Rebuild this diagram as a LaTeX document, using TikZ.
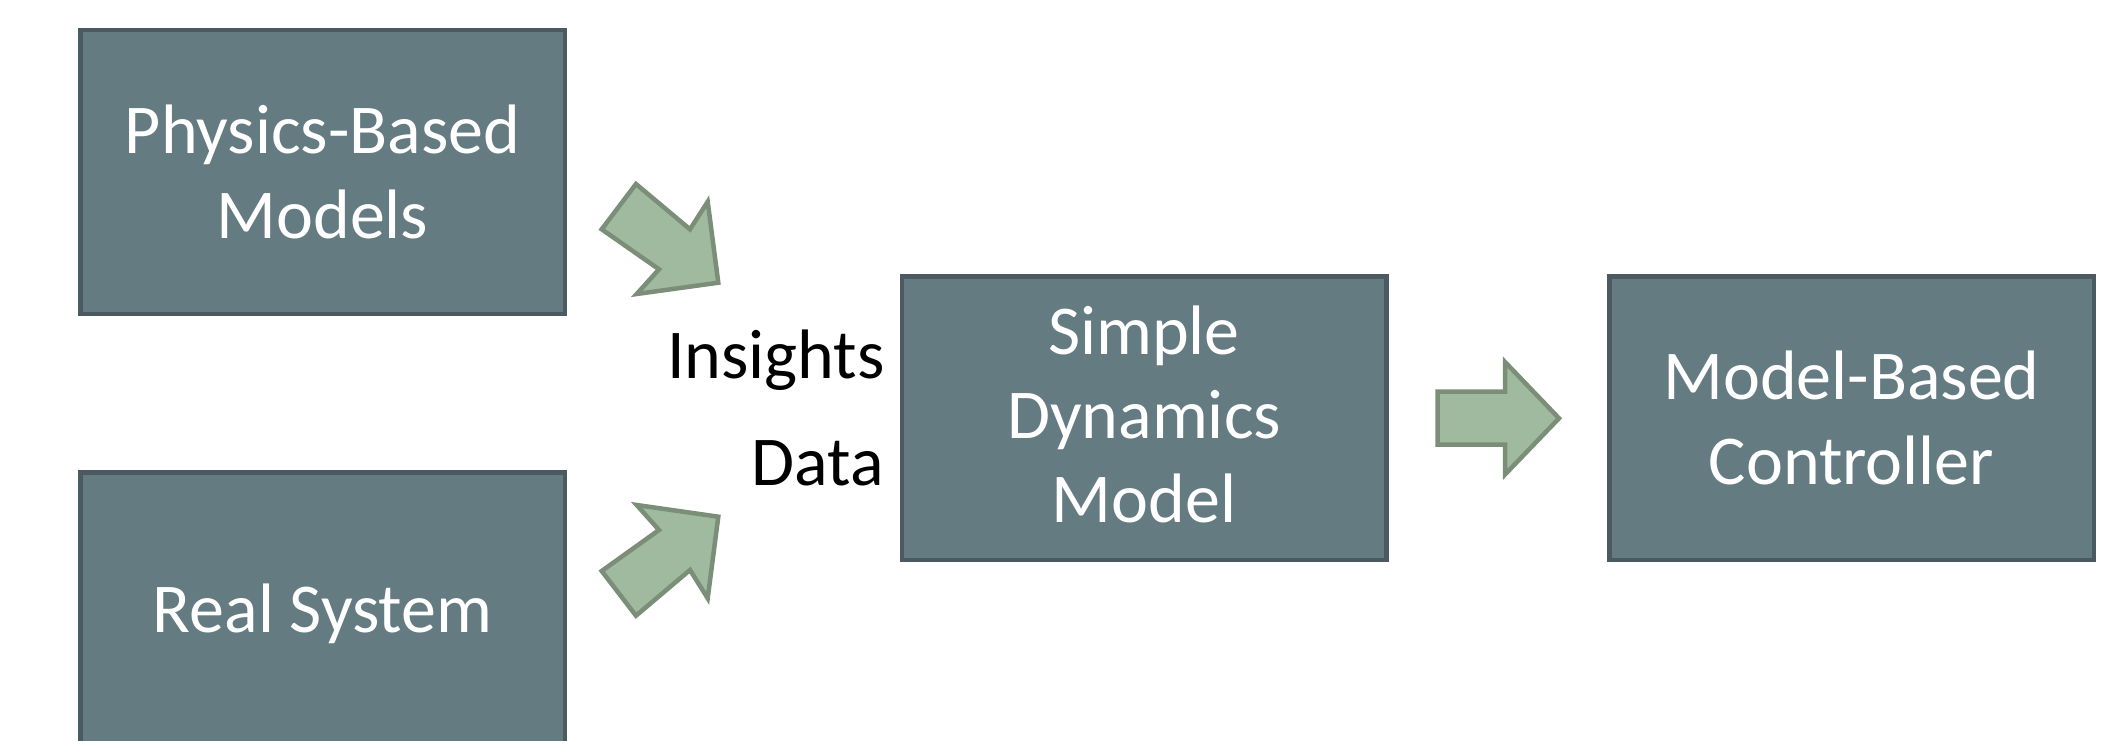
\documentclass[tikz,border=0pt]{standalone}
\usepackage{fontspec}
\setmainfont{Carlito}
\definecolor{boxfill}{HTML}{647B82}
\definecolor{boxline}{HTML}{4A5A60}
\definecolor{arrfill}{HTML}{9FBA9F}
\definecolor{arrline}{HTML}{7A8E78}
\begin{document}
\begin{tikzpicture}[x=1pt,y=-1pt,
  blockbox/.style={draw=boxline,fill=boxfill,line width=4.5pt,minimum width=484.5pt,minimum height=283.5pt,
    inner sep=0pt,outer sep=0pt,text=white,align=center,font=\fontsize{70}{85}\selectfont},
  blockarrow/.style={draw=arrline,fill=arrfill,line width=4.5pt,line join=miter},
  sidelabel/.style={anchor=base east,inner sep=0pt,text=black,font=\fontsize{70}{85}\selectfont}]
\useasboundingbox (0,0) rectangle (2110,741);
\begin{scope}
\clip (0,0) rectangle (2110,741);
\node[blockbox] (phys) at (322.5,172) {Physics-Based\\Models};
\node[blockbox] (real) at (322.5,614) {Real System};
\node[blockbox,font=\fontsize{70}{84}\selectfont,text depth=8pt] (sdm) at (1144,418) {Simple\\Dynamics\\Model};
\node[blockbox] (mbc) at (1851.5,418) {Model-Based\\Controller};
\end{scope}
\node[sidelabel] (insights) at (885,378) {Insights};
\node[sidelabel] (data) at (884,485) {Data};
% block arrows
\draw[blockarrow] (601.7,229.3) -- (636,184) -- (690,229.3) -- (707.7,201.7) -- (718.3,282.7) -- (636.7,294) -- (659,269.3) -- cycle;
\draw[blockarrow] (601.7,571) -- (636,615.7) -- (690,570) -- (707.7,598.3) -- (718.3,516.7) -- (636.7,505) -- (659,530) -- cycle;
\draw[blockarrow] (1437.5,391.5) -- (1505,391.5) -- (1505,362) -- (1559,418.3) -- (1505,474.5) -- (1505,444.5) -- (1437.5,444.5) -- cycle;
\end{tikzpicture}
\end{document}
